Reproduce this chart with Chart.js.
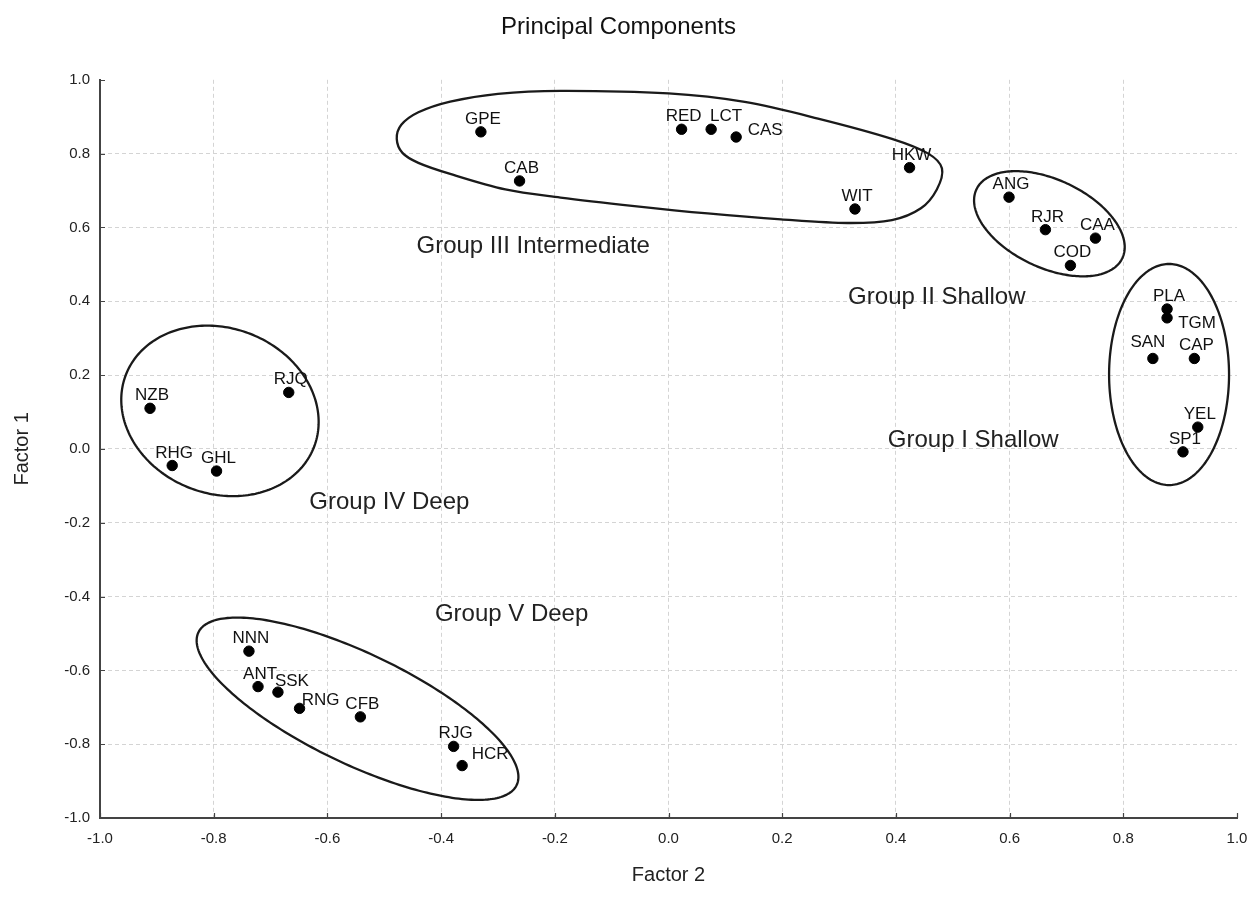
<!DOCTYPE html>
<html>
<head>
<meta charset="utf-8">
<title>Principal Components</title>
<script src="https://cdn.jsdelivr.net/npm/chart.js@4.4.1/dist/chart.umd.min.js"></script>
<style>
  html, body { margin: 0; padding: 0; background: #fff; }
  #wrap { width: 1255px; height: 903px; }
</style>
</head>
<body>
<div id="wrap"><canvas id="grafico" width="1255" height="903"></canvas></div>
<script>
// station codes and their loadings
var estaciones = ['GPE','CAB','RED','LCT','CAS','HKW','WIT',
                  'ANG','RJR','CAA','COD',
                  'PLA','TGM','SAN','CAP','YEL','SP1',
                  'NZB','RJQ','RHG','GHL',
                  'NNN','ANT','SSK','RNG','CFB','RJG','HCR'];
var factor2 = [-0.330, -0.262, 0.023, 0.075, 0.119, 0.424, 0.328,
               0.599, 0.663, 0.751, 0.707,
               0.877, 0.877, 0.852, 0.925, 0.931, 0.905,
               -0.912, -0.668, -0.873, -0.795,
               -0.738, -0.722, -0.687, -0.649, -0.542, -0.378, -0.363];
var factor1 = [0.859, 0.726, 0.866, 0.866, 0.845, 0.762, 0.650,
               0.682, 0.594, 0.571, 0.497,
               0.379, 0.355, 0.245, 0.245, 0.059, -0.008,
               0.110, 0.153, -0.045, -0.060,
               -0.548, -0.644, -0.659, -0.703, -0.726, -0.806, -0.858];
var ticksEje = [-1.0, -0.8, -0.6, -0.4, -0.2, 0.0, 0.2, 0.4, 0.6, 0.8, 1.0];

// group outlines (data units). ellipses: centre + two semi-axis vectors,
// group III is a hand drawn loop so it is given as a closed outline
var contornos = [
  { pts: [[-0.478, 0.840], [-0.470, 0.878], [-0.440, 0.912], [-0.384, 0.941],
          [-0.300, 0.962], [-0.190, 0.970], [0.000, 0.963], [0.134, 0.940],
          [0.263, 0.895], [0.393, 0.840], [0.457, 0.800], [0.481, 0.760],
          [0.472, 0.703], [0.444, 0.652], [0.393, 0.620], [0.315, 0.612],
          [0.198, 0.622], [0.069, 0.638], [-0.060, 0.658], [-0.190, 0.681],
          [-0.287, 0.703], [-0.384, 0.745], [-0.440, 0.775], [-0.468, 0.802]] },
  { c: [0.670, 0.610],  u: [0.1325, -0.0634], v: [0, 0.1276] },
  { c: [0.8805, 0.2015], u: [0.1055, 0],      v: [0, 0.2995] },
  { c: [-0.789, 0.103], u: [0.1736, -0.030],  v: [0, 0.229] },
  { c: [-0.547, -0.704], u: [0.283, -0.1848], v: [0, 0.1639] }
];
var textosGrupo = [
  { t: 'Group I Shallow', x: 0.536, y: 0.023 },
  { t: 'Group II Shallow', x: 0.472, y: 0.411 },
  { t: 'Group III Intermediate', x: -0.238, y: 0.548 },
  { t: 'Group IV Deep', x: -0.491, y: -0.146 },
  { t: 'Group V Deep', x: -0.276, y: -0.447 }
];
// label nudges in px (default is centred just above the dot)
var ajusteEtiqueta = { LCT: [15, -8], CAS: [29, -2], TGM: [30, 10], SSK: [14, -6],
                       RNG: [21, -3], HCR: [28, -7], SAN: [-5, -11] };

var puntos = [];
for (var i = 0; i < estaciones.length; i++) {
  puntos.push({ x: factor2[i], y: factor1[i] });
}

Chart.defaults.font.family = "'Liberation Sans', Arial, sans-serif";
Chart.defaults.color = '#222';

function trazoCerrado(ctx, p) {
  // closed catmull-rom through pixel points
  var n = p.length;
  ctx.moveTo(p[0][0], p[0][1]);
  for (var k = 0; k < n; k++) {
    var p0 = p[(k - 1 + n) % n], p1 = p[k], p2 = p[(k + 1) % n], p3 = p[(k + 2) % n];
    ctx.bezierCurveTo(p1[0] + (p2[0] - p0[0]) / 6, p1[1] + (p2[1] - p0[1]) / 6,
                      p2[0] - (p3[0] - p1[0]) / 6, p2[1] - (p3[1] - p1[1]) / 6,
                      p2[0], p2[1]);
  }
}

var extras = {
  id: 'extras',
  afterDatasetsDraw: function(chart) {
    var ctx = chart.ctx;
    var sx = chart.scales.x, sy = chart.scales.y;
    var area = chart.chartArea;

    // small inside tick marks
    ctx.save();
    ctx.strokeStyle = '#444';
    ctx.lineWidth = 1.2;
    ctx.beginPath();
    ticksEje.forEach(function(v) {
      var px = Math.round(sx.getPixelForValue(v)) + 0.5;
      ctx.moveTo(px, area.bottom); ctx.lineTo(px, area.bottom - 5);
      var py = Math.round(sy.getPixelForValue(v)) + 0.5;
      ctx.moveTo(area.left, py); ctx.lineTo(area.left + 5, py);
    });
    ctx.stroke();

    // group outlines
    ctx.strokeStyle = '#1a1a1a';
    ctx.lineWidth = 2.3;
    contornos.forEach(function(e) {
      ctx.beginPath();
      if (e.pts) {
        trazoCerrado(ctx, e.pts.map(function(q) {
          return [sx.getPixelForValue(q[0]), sy.getPixelForValue(q[1])];
        }));
      } else {
        for (var k = 0; k <= 240; k++) {
          var t = k / 240 * Math.PI * 2;
          var dx = e.c[0] + e.u[0] * Math.cos(t) + e.v[0] * Math.sin(t);
          var dy = e.c[1] + e.u[1] * Math.cos(t) + e.v[1] * Math.sin(t);
          var px = sx.getPixelForValue(dx), py = sy.getPixelForValue(dy);
          if (k === 0) ctx.moveTo(px, py); else ctx.lineTo(px, py);
        }
      }
      ctx.closePath();
      ctx.stroke();
    });

    // group names
    ctx.fillStyle = '#222';
    ctx.font = "24px 'Liberation Sans', Arial, sans-serif";
    ctx.textAlign = 'center';
    ctx.textBaseline = 'middle';
    textosGrupo.forEach(function(g) {
      ctx.fillText(g.t, sx.getPixelForValue(g.x), sy.getPixelForValue(g.y));
    });

    // station labels
    ctx.fillStyle = '#111';
    ctx.font = "17px 'Liberation Sans', Arial, sans-serif";
    ctx.textBaseline = 'alphabetic';
    var meta = chart.getDatasetMeta(0);
    meta.data.forEach(function(el, idx) {
      var nombre = estaciones[idx];
      var off = ajusteEtiqueta[nombre] || [2, -8];
      ctx.fillText(nombre, el.x + off[0], el.y + off[1]);
    });
    ctx.restore();
  }
};

var lineaGrid = function(c) {
  return (c.tick && Math.abs(c.tick.value) > 0.999) ? 'rgba(0,0,0,0)' : '#d4d4d4';
};

var grafico = new Chart(document.getElementById('grafico'), {
  type: 'scatter',
  data: {
    datasets: [{
      label: 'Stations',
      data: puntos,
      backgroundColor: '#000',
      borderColor: '#000',
      pointRadius: 5.2,
      pointHoverRadius: 5.2
    }]
  },
  options: {
    responsive: false,
    animation: false,
    events: [],
    layout: { padding: { left: 0, right: 18, top: 0, bottom: 0 } },
    plugins: {
      legend: { display: false },
      tooltip: { enabled: false },
      title: {
        display: true,
        text: 'Principal Components',
        color: '#111',
        font: { size: 24, weight: 'normal' },
        padding: { top: 13, bottom: 38 }
      }
    },
    scales: {
      x: {
        type: 'linear',
        min: -1, max: 1,
        afterBuildTicks: function(s) { s.ticks = ticksEje.map(function(v) { return { value: v }; }); },
        afterFit: function(s) { s.height = 85; s.paddingRight = 0; s.paddingLeft = 0; },
        ticks: {
          padding: 12,
          font: { size: 15 },
          color: '#222',
          maxRotation: 0,
          callback: function(v) { return Number(v).toFixed(1); }
        },
        grid: { color: lineaGrid, lineWidth: 1, drawTicks: false },
        border: { color: '#444', width: 2, dash: [4, 3] },
        title: {
          display: true,
          text: 'Factor 2',
          color: '#222',
          font: { size: 20 },
          padding: { top: 0, bottom: 16 }
        }
      },
      y: {
        type: 'linear',
        min: -1, max: 1,
        afterBuildTicks: function(s) { s.ticks = ticksEje.map(function(v) { return { value: v }; }); },
        afterFit: function(s) { s.width = 100; },
        ticks: {
          padding: 10,
          font: { size: 15 },
          color: '#222',
          callback: function(v) { return Number(v).toFixed(1); }
        },
        grid: { color: lineaGrid, lineWidth: 1, drawTicks: false },
        border: { color: '#444', width: 2, dash: [4, 3] },
        title: {
          display: true,
          text: 'Factor 1',
          color: '#222',
          font: { size: 20 },
          padding: { top: 10, bottom: 0 }
        }
      }
    }
  },
  plugins: [extras]
});
</script>
</body>
</html>
